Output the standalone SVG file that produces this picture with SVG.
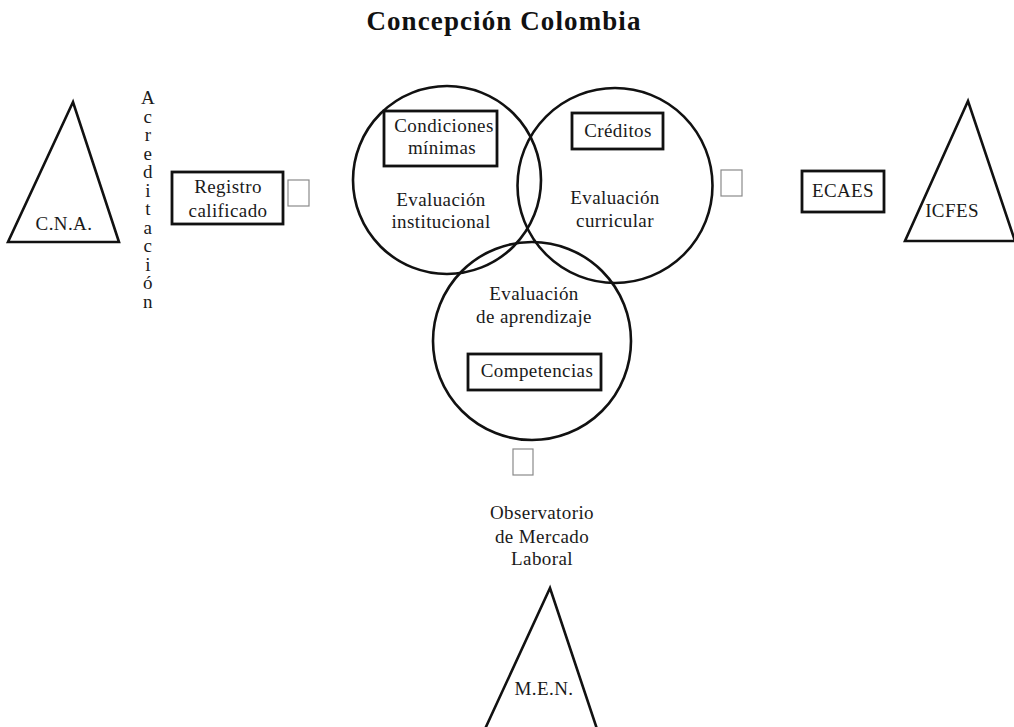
<svg xmlns="http://www.w3.org/2000/svg" width="1014" height="727" viewBox="0 0 1014 727">
<style>
text{font-family:"Liberation Serif","DejaVu Serif",serif;font-size:19px;letter-spacing:0.4px;fill:#1a1a1a;text-anchor:middle}
.title{font-weight:bold;font-size:27px;letter-spacing:1.1px;fill:#111}
.shape{fill:none;stroke:#111;stroke-width:2.6}
.box{fill:none;stroke:#111;stroke-width:2.8}
.glyph{fill:#fff;stroke:#8a8a8a;stroke-width:1.2}
</style>
<rect width="1014" height="727" fill="#fff"/>
<text class="title" x="504" y="30">Concepción Colombia</text>
<g id="connectors"/>
<g id="cna">
<polygon class="shape" points="73,102 8,242 119,242"/>
<text x="64" y="230">C.N.A.</text>
</g>
<g id="acreditacion">
<text x="148" y="104">A<tspan x="148" dy="18.5">c</tspan><tspan x="148" dy="18.5">r</tspan><tspan x="148" dy="18.5">e</tspan><tspan x="148" dy="18.5">d</tspan><tspan x="148" dy="18.5">i</tspan><tspan x="148" dy="18.5">t</tspan><tspan x="148" dy="18.5">a</tspan><tspan x="148" dy="18.5">c</tspan><tspan x="148" dy="18.5">i</tspan><tspan x="148" dy="18.5">ó</tspan><tspan x="148" dy="18.5">n</tspan></text>
</g>
<g id="registro">
<rect class="box" x="172" y="172" width="111" height="52"/>
<text x="228" y="193">Registro</text>
<text x="228" y="217">calificado</text>
</g>
<rect id="mark1" class="glyph" x="288" y="180" width="21" height="26"/>
<g id="institucional">
<circle class="shape" cx="447" cy="180" r="94"/>
<rect class="box" x="384" y="111" width="113" height="55"/>
<text x="444" y="132">Condiciones</text>
<text x="442" y="154">mínimas</text>
<text x="441" y="206">Evaluación</text>
<text x="441" y="228">institucional</text>
</g>
<g id="curricular">
<circle class="shape" cx="615" cy="185.5" r="97.5"/>
<rect class="box" x="572" y="113" width="91" height="36"/>
<text x="618" y="137">Créditos</text>
<text x="615" y="204">Evaluación</text>
<text x="615" y="227">curricular</text>
</g>
<g id="aprendizaje">
<circle class="shape" cx="532" cy="341" r="99"/>
<text x="534" y="300">Evaluación</text>
<text x="534" y="323">de aprendizaje</text>
<rect class="box" x="468" y="354" width="133" height="36"/>
<text x="537" y="377">Competencias</text>
</g>
<rect id="mark2" class="glyph" x="721" y="170" width="21" height="26"/>
<g id="ecaes">
<rect class="box" x="802" y="171" width="82" height="41"/>
<text x="843" y="197">ECAES</text>
</g>
<g id="icfes">
<polygon class="shape" points="968,101 905,241 1015,241"/>
<text x="952" y="217">ICFES</text>
</g>
<rect id="mark3" class="glyph" x="513" y="449" width="20" height="26"/>
<g id="observatorio">
<text x="542" y="519">Observatorio</text>
<text x="542" y="543">de Mercado</text>
<text x="542" y="565">Laboral</text>
</g>
<g id="men">
<polygon class="shape" points="550,588 485,729 597,729"/>
<text x="544" y="695">M.E.N.</text>
</g>
</svg>
